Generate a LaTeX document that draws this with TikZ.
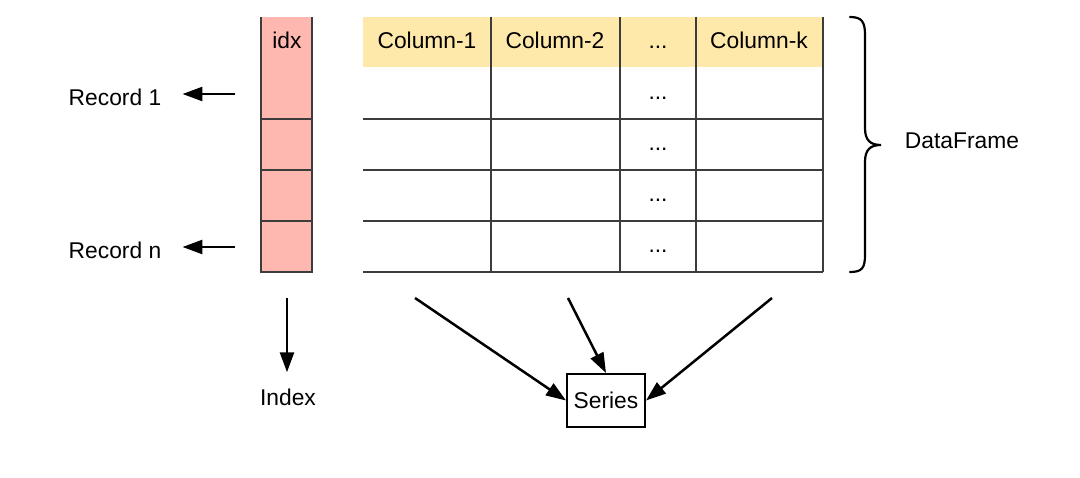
\documentclass[tikz,border=0pt]{standalone}
\usepackage{fontspec}
\setmainfont{Liberation Sans}
\usetikzlibrary{arrows.meta}
\definecolor{idxpink}{RGB}{255,184,176}
\definecolor{hdryellow}{RGB}{255,233,170}
\definecolor{gridgray}{RGB}{60,60,60}
\begin{document}
\begin{tikzpicture}[x=1pt,y=-1pt,
  lbl/.style={font=\fontsize{22.8}{27}\selectfont, anchor=base, inner sep=0pt},
  gridline/.style={draw=gridgray, line width=1.4pt},
  arr/.style={line width=2.5pt, -{Triangle[length=20pt,width=14pt]}},
  bracestyle/.style={line width=2.2pt, line cap=round}]
\fill[white] (0,0) rectangle (1080,478);
\useasboundingbox (0,0) rectangle (1080,478);

% index column
\fill[idxpink] (261,17) rectangle (312,272);
\draw[gridline] (261,17) -- (261,272) -- (312,272) -- (312,17);
\draw[gridline] (261,119) -- (312,119) (261,170) -- (312,170) (261,221) -- (312,221);
\node[lbl] (idx) at (287,49) {idx};

% table
\fill[hdryellow] (363,17) rectangle (823,67);
\foreach \y in {119,170,221,272} {\draw[gridline] (363,\y) -- (823,\y);}
\foreach \x in {491,620,696,823} {\draw[gridline] (\x,17) -- (\x,272);}
\node[lbl] (c1) at (427,49) {Column-1};
\node[lbl] (c2) at (555,49) {Column-2};
\node[lbl] (cd) at (658,49) {...};
\node[lbl] (ck) at (759,49) {Column-k};
\node[lbl] (d1) at (658,100) {...};
\node[lbl] (d2) at (658,151) {...};
\node[lbl] (d3) at (658,202) {...};
\node[lbl] (d4) at (658,253) {...};

% records
\node[lbl] (rec1) at (115,106) {Record 1};
\node[lbl] (recn) at (115,259) {Record n};
\coordinate (r1s) at (235,94);
\coordinate (rns) at (235,247);
\draw[arr, shorten >=21pt] (r1s) -- (r1s -| rec1.east);
\draw[arr, shorten >=21pt] (rns) -- (rns -| recn.east);

% brace
\draw[bracestyle] (850,17) .. controls (862,17) and (865,22) .. (865,35) -- (865,128)
  .. controls (865,140) and (870,145) .. (881,145)
  .. controls (870,145) and (865,150) .. (865,162) -- (865,255)
  .. controls (865,268) and (862,272) .. (850,272);
\node[lbl] (df) at (962,149) {DataFrame};

% index arrow
\node[lbl] (ix) at (288,406) {Index};
\coordinate (ixs) at (287,298);
\draw[arr, shorten >=17pt] (ixs) -- (ixs |- ix.north);

% series
\node[draw, line width=2pt, minimum width=78pt, minimum height=53pt, inner sep=0pt,
  font=\fontsize{22.8}{27}\selectfont] (ser) at (606,400.5) {Series};
\coordinate (s1) at (415,298);
\coordinate (s2) at (568,298);
\coordinate (s3) at (772,298);
\draw[arr] (s1) -- (ser.west);
\draw[arr] (s2) -- (ser.north);
\draw[arr] (s3) -- (ser.east);
\end{tikzpicture}
\end{document}
